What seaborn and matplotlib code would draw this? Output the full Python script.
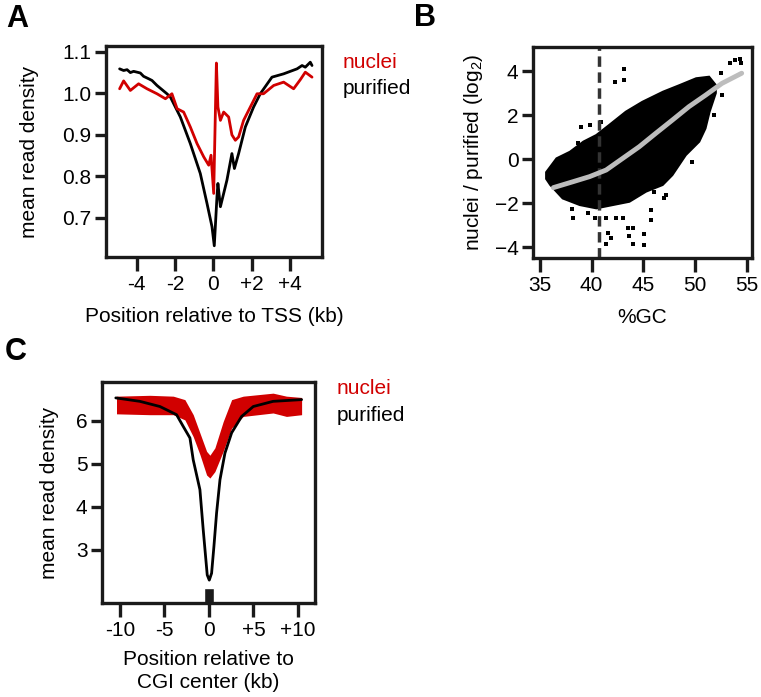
import numpy as np
import seaborn as sns
import matplotlib.pyplot as plt

sns.set_style('white')
plt.rcParams['font.family'] = ['Liberation Sans', 'DejaVu Sans']
plt.rcParams['mathtext.default'] = 'regular'
plt.rcParams['text.color'] = 'black'
plt.rcParams['axes.labelcolor'] = 'black'
plt.rcParams['xtick.color'] = 'black'
plt.rcParams['ytick.color'] = 'black'

RED = '#d10000'
DARK = '#1a1a1a'
FS = 15

## panel A - read density around TSS (kb)
tss_black_x = [-4.89, -4.68, -4.5, -4.33, -4.16, -3.98, -3.81, -3.64, -3.37, -3.2, -2.94, -2.68,
               -2.42, -2.24, -1.72, -1.2, -0.68, -0.33, -0.07, 0.05, 0.19, 0.24,
               0.37, 0.71, 0.97, 1.1, 1.32, 1.67, 2.1, 2.45, 3.06, 3.67, 4.37, 4.63, 4.8, 5.06, 5.15]
tss_black_y = [1.059, 1.055, 1.057, 1.050, 1.053, 1.051, 1.049, 1.041, 1.035, 1.031, 1.019, 1.009,
               0.999, 0.991, 0.943, 0.879, 0.807, 0.735, 0.679, 0.633, 0.751, 0.783,
               0.727, 0.791, 0.855, 0.819, 0.855, 0.919, 0.967, 0.999, 1.039, 1.047, 1.059, 1.067,
               1.063, 1.075, 1.067]
tss_red_x = [-4.89, -4.68, -4.33, -3.9, -3.46, -2.94, -2.5, -2.16, -1.89, -1.55, -1.2, -0.85, -0.5,
             -0.24, -0.12, 0.02, 0.16, 0.24, 0.37, 0.54, 0.8, 0.97, 1.15, 1.32, 1.58, 1.93, 2.28,
             2.62, 3.15, 3.67, 4.19, 4.54, 4.8, 5.15]
tss_red_y = [1.011, 1.03, 1.007, 1.023, 1.011, 0.999, 0.987, 0.999, 0.963, 0.955, 0.919, 0.879,
             0.847, 0.827, 0.851, 0.759, 1.073, 0.967, 0.935, 0.955, 0.943, 0.90, 0.887, 0.895,
             0.935, 0.967, 0.999, 0.999, 1.019, 1.027, 1.011, 1.033, 1.051, 1.039]

## panel B - GC content vs log2 ratio
cloud_up_gc = [35.6, 36.6, 37.9, 39.2, 40.45, 41.7, 43.3, 44.9, 46.9, 48.5, 50.1, 51.35, 52.0]
cloud_up = [-0.6, 0.03, 0.33, 0.79, 1.09, 1.55, 2.15, 2.6, 3.06, 3.36, 3.67, 3.74, 3.36]
cloud_lo_gc = [35.6, 36.0, 37.2, 38.85, 40.45, 42.05, 43.65, 45.26, 46.86, 47.8, 49.1, 50.4, 51.0, 51.4, 52.0]
cloud_lo = [-0.9, -1.18, -1.79, -2.09, -2.24, -2.09, -1.94, -1.48, -1.18, -0.73, 0.18, 0.79, 1.39, 2.15, 3.0]
out_gc = [53.4, 53.85, 54.3, 54.4, 43.17, 42.3, 43.17, 39.0, 39.8, 38.7, 39.3, 40.9, 41.9, 38.1, 38.2,
          39.65, 40.3, 41.4, 42.4, 43.0, 41.57, 41.9, 41.4, 43.5, 43.97, 43.65, 43.97, 45.1, 45.1,
          45.74, 45.74, 46.06, 47.0, 47.2, 52.5, 52.6, 51.8, 49.7]
out_ratio = [4.35, 4.5, 4.55, 4.35, 4.09, 3.51, 3.59, 1.47, 1.55, 0.71, 0.64, 1.7, 1.47, -2.27, -2.67,
             -2.47, -2.7, -2.7, -2.7, -2.7, -3.38, -3.6, -3.88, -3.15, -3.15, -3.5, -3.88, -3.42, -3.9,
             -2.32, -2.77, -1.48, -1.79, -1.64, 3.9, 2.9, 2.0, -0.12]
fit_gc = [36.3, 38.2, 39.8, 41.4, 43.0, 44.6, 46.2, 47.8, 49.4, 51.0, 52.6, 54.5]
fit_ratio = [-1.3, -1.03, -0.8, -0.5, 0.03, 0.56, 1.17, 1.77, 2.38, 2.9, 3.44, 3.9]
gc_cut = 40.7

## panel C - read density around CGI center (kb)
cgi_black_x = [-10.45, -7.75, -5.5, -3.63, -2.89, -2.13, -1.76, -1.01, -0.64, -0.34, -0.19, 0.04,
               0.3, 0.56, 0.86, 1.24, 1.8, 2.55, 3.67, 4.98, 7.2, 10.4]
cgi_black_y = [6.53, 6.45, 6.33, 6.14, 5.87, 5.6, 5.09, 4.40, 3.47, 2.77, 2.42, 2.30,
               2.46, 3.08, 3.86, 4.63, 5.25, 5.72, 6.1, 6.33, 6.45, 6.49]
cgi_red_x = [-10.37, -6.63, -4.0, -2.7, -1.76, -1.0, -0.26, 0.11, 0.67, 1.6, 2.55, 3.85, 7.2, 8.7, 10.4]
cgi_red_hi = [6.57, 6.59, 6.57, 6.49, 6.14, 5.71, 5.29, 5.2, 5.37, 5.98, 6.49, 6.57, 6.64, 6.57, 6.54]
cgi_red_lo = [6.16, 6.14, 6.14, 6.02, 5.63, 5.21, 4.74, 4.67, 4.82, 5.29, 5.83, 6.1, 6.18, 6.1, 6.14]

fig = plt.figure(figsize=(7.61, 6.97), dpi=100)
axA = fig.add_axes([0.1393, 0.6313, 0.2838, 0.3027])
axB = fig.add_axes([0.7004, 0.6298, 0.2878, 0.3027])
axC = fig.add_axes([0.134, 0.1349, 0.2799, 0.3171])

# A
sns.lineplot(x=tss_black_x, y=tss_black_y, ax=axA, color='black', lw=2, sort=False)
sns.lineplot(x=tss_red_x, y=tss_red_y, ax=axA, color=RED, lw=2, sort=False)
axA.set_xlim(-5.6, 5.67)
axA.set_ylim(0.606, 1.114)
axA.set_xticks([-4, -2, 0, 2, 4])
axA.set_xticklabels(['-4', '-2', '0', '+2', '+4'])
axA.set_yticks([0.7, 0.8, 0.9, 1.0, 1.1])
axA.set_yticklabels(['0.7', '0.8', '0.9', '1.0', '1.1'])
axA.set_xlabel('Position relative to TSS (kb)', labelpad=9)
axA.set_ylabel('mean read density', labelpad=17)

# B
bx = np.concatenate([cloud_up_gc, cloud_lo_gc[::-1]])
by = np.concatenate([cloud_up, cloud_lo[::-1]])
axB.fill(bx, by, color='black', lw=1.5, ec='black')
sns.scatterplot(x=out_gc, y=out_ratio, ax=axB, color='black', marker='s', s=8, linewidth=0)
axB.axvline(gc_cut, color='#333333', lw=2.5, ls=(0, (3, 1.6)))
sns.lineplot(x=fit_gc, y=fit_ratio, ax=axB, color='#bdbdbd', lw=3.5)
axB.set_xlim(34.33, 55.5)
axB.set_ylim(-4.5, 5.09)
axB.set_xticks([35, 40, 45, 50, 55])
axB.set_yticks([-4, -2, 0, 2, 4])
axB.set_xlabel('%GC', labelpad=9)
axB.set_ylabel('nuclei / purified (log$_2$)', labelpad=7)

# C
axC.fill_between(cgi_red_x, cgi_red_lo, cgi_red_hi, color=RED, lw=0)
sns.lineplot(x=cgi_black_x, y=cgi_black_y, ax=axC, color='black', lw=2)
axC.bar([0], [0.35], width=1.1, bottom=1.77, color=DARK)
axC.set_xlim(-12.0, 11.9)
axC.set_ylim(1.77, 6.9)
axC.set_xticks([-10, -5, 0, 5, 10])
axC.set_xticklabels(['-10', '-5', '0', '+5', '+10'])
axC.set_yticks([3, 4, 5, 6])
axC.set_xlabel('Position relative to\nCGI center (kb)', labelpad=7, linespacing=1.25)
axC.set_ylabel('mean read density', labelpad=12)

for ax in (axA, axB, axC):
    for sp in ax.spines.values():
        sp.set_linewidth(2.4)
        sp.set_color(DARK)
    ax.tick_params(axis='both', which='major', direction='out', width=2.4,
                   color=DARK, labelsize=FS, bottom=True, left=True)
    ax.tick_params(axis='x', length=10, pad=3)
    ax.tick_params(axis='y', length=8, pad=2.5)
    ax.xaxis.label.set_size(FS)
    ax.yaxis.label.set_size(FS)
    if ax.get_legend():
        ax.get_legend().remove()

# legends as text
fig.text(343 / 761, 1 - 62 / 697, 'nuclei', color=RED, fontsize=FS, va='center')
fig.text(343 / 761, 1 - 89 / 697, 'purified', color='black', fontsize=FS, va='center')
fig.text(337 / 761, 1 - 388 / 697, 'nuclei', color=RED, fontsize=FS, va='center')
fig.text(337 / 761, 1 - 415 / 697, 'purified', color='black', fontsize=FS, va='center')

# panel letters
fig.text(17 / 761, 1 - 19 / 697, 'A', fontsize=22, fontweight='bold', ha='center', va='center')
fig.text(425 / 761, 1 - 18 / 697, 'B', fontsize=22, fontweight='bold', ha='center', va='center')
fig.text(16 / 761, 1 - 352 / 697, 'C', fontsize=22, fontweight='bold', ha='center', va='center')

plt.savefig('out.png', dpi=100)
